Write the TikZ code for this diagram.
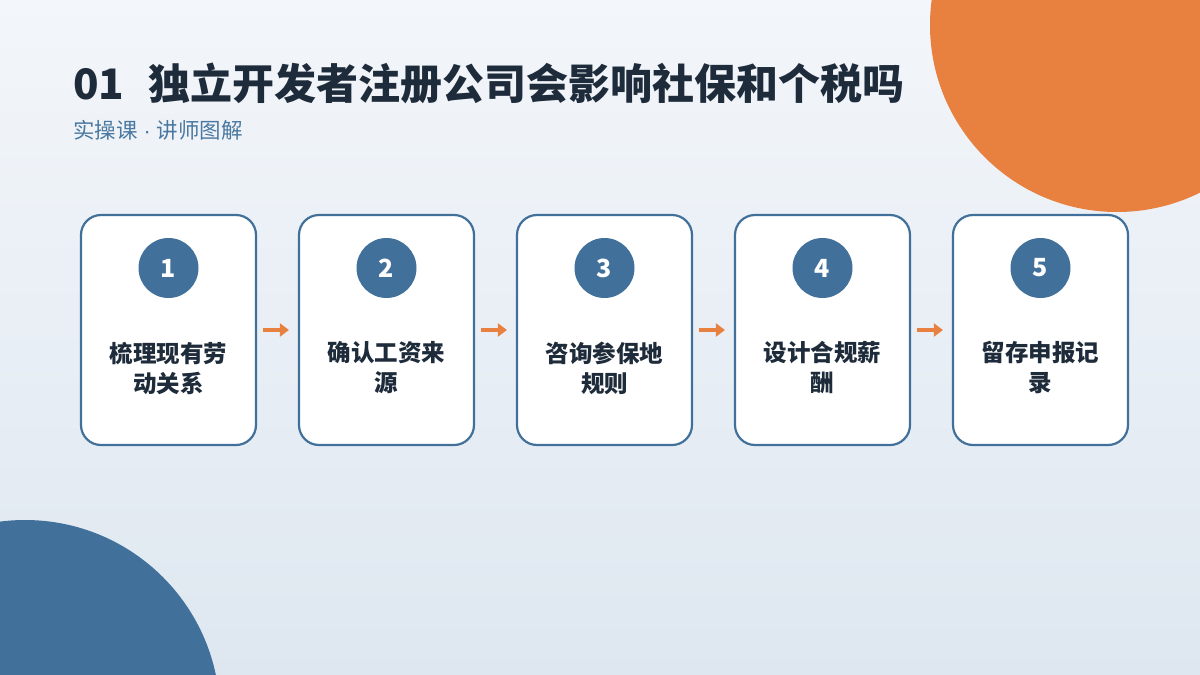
\documentclass[tikz,border=0pt]{standalone}
\usepackage{fontspec}
\setmainfont{Noto Sans CJK SC}
\newfontfamily\cjk{Noto Sans CJK SC}
\newfontfamily\latinsans{Liberation Sans}
\usetikzlibrary{arrows.meta}
\definecolor{bgtop}{HTML}{F3F6FA}
\definecolor{bgbot}{HTML}{DEE7F0}
\definecolor{accent}{HTML}{E8803F}
\definecolor{mainblue}{HTML}{41709A}
\definecolor{darktext}{HTML}{1E2B3A}
\definecolor{subtext}{HTML}{4A78A0}
\tikzset{
  stepbox/.style={draw=mainblue, line width=2.2pt, fill=white, rounded corners=20pt, minimum width=175pt, minimum height=230pt, inner sep=0pt},
  numcirc/.style={circle, fill=mainblue, minimum size=60pt, inner sep=0pt, text=white, font=\cjk\bfseries\fontsize{25}{28}\selectfont},
  steptext/.style={align=center, text=darktext, font=\cjk\bfseries\fontsize{23.5}{30}\selectfont},
  flow/.style={draw=accent, line width=4pt, -{Triangle[length=9pt,width=13pt]}, shorten <=6pt, shorten >=9pt}
}
\begin{document}
\begin{tikzpicture}[x=1pt,y=-1pt]
\useasboundingbox (0,0) rectangle (1200,675);
\shade[top color=bgtop, bottom color=bgbot] (0,0) rectangle (1200,675);
\begin{scope}
\clip (0,0) rectangle (1200,675);
\fill[accent] (1117,25) circle (187);
\fill[mainblue] (25,715) circle (195);
\end{scope}
\node[anchor=base west, text=darktext, font=\cjk\bfseries\fontsize{42}{46}\selectfont, inner sep=0pt] (title) at (73,99) {01\hspace{24pt}独立开发者注册公司会影响社保和个税吗};
\node[anchor=base west, text=subtext, font=\cjk\fontsize{21.5}{24}\selectfont, inner sep=0pt] (sub) at (73,138) {实操课{\latinsans\ ·\ }讲师图解};
\foreach \i/\t in {1/{梳理现有劳\\动关系},2/{确认工资来\\源},3/{咨询参保地\\规则},4/{设计合规薪\\酬},5/{留存申报记\\录}}{
  \pgfmathsetmacro{\cx}{168.5+218*(\i-1)}
  \node[stepbox] (b\i) at (\cx,330) {};
  \node[numcirc] (c\i) at (\cx,268) {\i};
  \node[steptext] (t\i) at (\cx,368) {\t};
}
\foreach \a/\b in {1/2,2/3,3/4,4/5}{
  \draw[flow] (b\a.east) -- (b\b.west);
}
\end{tikzpicture}
\end{document}
